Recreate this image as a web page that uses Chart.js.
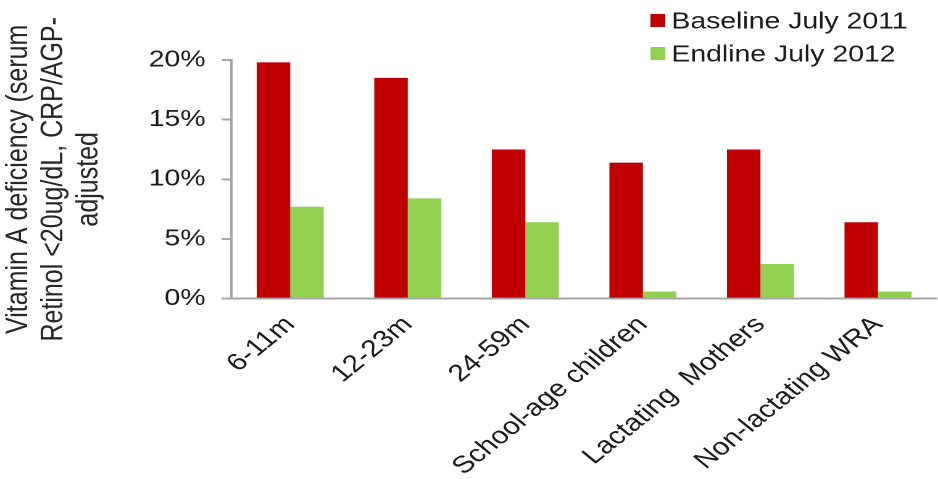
<!DOCTYPE html>
<html>
<head>
<meta charset="utf-8">
<script src="https://cdn.jsdelivr.net/npm/chart.js@4"></script>
<style>
  html, body { margin: 0; padding: 0; background: #fff; overflow: hidden; }
  #vadChart { display: block; }
</style>
</head>
<body>
<!-- the reference is a horizontally stretched picture, so the chart is
     laid out 760px wide and shown 938px wide -->
<canvas id="vadChart" width="760" height="479" style="width:938px;height:479px"></canvas>
<script>
const categories = ['6-11m', '12-23m', '24-59m', 'School-age children', 'Lactating  Mothers', 'Non-lactating WRA'];
const baseline2011 = [19.8, 18.5, 12.5, 11.4, 12.5, 6.4];
const endline2012 = [7.7, 8.4, 6.4, 0.6, 2.9, 0.6];
const yTicks = [0, 5, 10, 15, 20];

const FONT = "'Liberation Sans', Arial, sans-serif";

// two-row legend in the top right corner
const stackedLegend = {
  id: 'stackedLegend',
  afterDraw(chart) {
    const ctx = chart.ctx;
    ctx.save();
    ctx.font = '23px ' + FONT;
    ctx.textBaseline = 'middle';
    chart.data.datasets.forEach((ds, i) => {
      const y = 21 + i * 33;
      ctx.fillStyle = ds.backgroundColor;
      ctx.fillRect(527, y - 7, 12, 13);
      ctx.fillStyle = '#1a1a1a';
      ctx.fillText(ds.label, 544, y + 1);
    });
    ctx.restore();
  }
};

const ctx = document.getElementById('vadChart').getContext('2d');

new Chart(ctx, {
  type: 'bar',
  data: {
    labels: categories,
    datasets: [
      {
        label: 'Baseline July 2011',
        data: baseline2011,
        backgroundColor: '#C00000'
      },
      {
        label: 'Endline July 2012',
        data: endline2012,
        backgroundColor: '#92D050'
      }
    ]
  },
  options: {
    responsive: false,
    devicePixelRatio: 2,
    animation: false,
    layout: { padding: { top: 60, right: 1, left: 0, bottom: -6 } },
    datasets: {
      bar: { categoryPercentage: 0.57, barPercentage: 1 }
    },
    plugins: {
      legend: { display: false },
      tooltip: { enabled: false }
    },
    scales: {
      x: {
        grid: { display: false },
        border: { color: '#a6a6a6', width: 2 },
        ticks: {
          color: '#1a1a1a',
          font: { family: FONT, size: 24 },
          minRotation: 45,
          maxRotation: 45,
          autoSkip: false,
          padding: 4
        }
      },
      y: {
        min: 0,
        max: 20,
        afterBuildTicks(scale) {
          scale.ticks = yTicks.map(v => ({ value: v }));
        },
        grid: { drawOnChartArea: false, drawTicks: true, tickLength: 8, color: '#a6a6a6', lineWidth: 2 },
        border: { color: '#a6a6a6', width: 2 },
        ticks: {
          color: '#1a1a1a',
          font: { family: FONT, size: 23 },
          padding: 13,
          callback: v => v + '%'
        },
        title: {
          display: true,
          text: ['Vitamin A deficiency (serum', 'Retinol <20ug/dL, CRP/AGP-', 'adjusted'],
          color: '#262626',
          font: { family: FONT, size: 25, lineHeight: 1.14 },
          padding: { top: 1, bottom: 21 }
        }
      }
    }
  },
  plugins: [stackedLegend]
});
</script>
</body>
</html>
